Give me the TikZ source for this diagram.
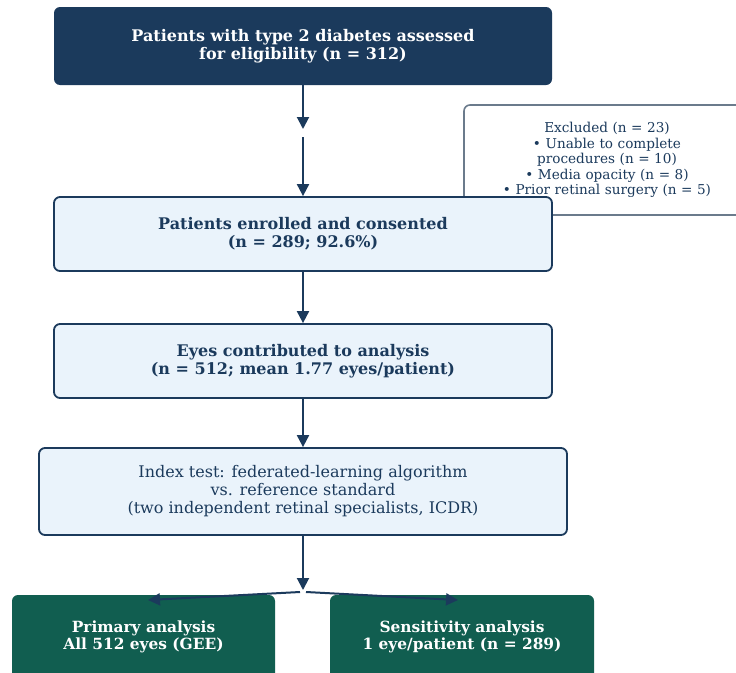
\documentclass[tikz,border=0pt]{standalone}
\usepackage{fontspec}
\setmainfont{DejaVu Serif}
\usetikzlibrary{arrows.meta}
\definecolor{navy}{HTML}{1B3A5C}
\definecolor{lightfill}{HTML}{EAF3FB}
\definecolor{greenbox}{HTML}{115E50}
\definecolor{graybd}{HTML}{6B7B8C}
\begin{document}
\begin{tikzpicture}[x=1pt,y=-1pt,
  darkbox/.style={rectangle, rounded corners=6pt, fill=navy, draw=none, text=white,
    font=\fontsize{16}{18}\selectfont\bfseries, align=center, inner sep=0pt},
  lightbox/.style={rectangle, rounded corners=6pt, fill=lightfill, draw=navy, line width=1.8pt, text=navy,
    font=\fontsize{16}{18}\selectfont\bfseries, align=center, inner sep=0pt},
  plainbox/.style={lightbox, font=\fontsize{16}{18}\selectfont},
  exclbox/.style={rectangle, rounded corners=6pt, fill=white, draw=graybd, line width=1.6pt, text=navy,
    font=\fontsize{13.6}{15.4}\selectfont, align=center, inner sep=0pt},
  greenbx/.style={rectangle, rounded corners=6pt, fill=greenbox, draw=none, text=white,
    font=\fontsize{15.4}{17.5}\selectfont\bfseries, align=center, inner sep=0pt},
  flow/.style={draw=navy, line width=2pt, -{Triangle[width=12pt,length=12pt]}}
]
\clip (0,0) rectangle (736,672);
\fill[white] (0,0) rectangle (736,672);

\node[darkbox, minimum width=498pt, minimum height=78pt] (top) at (303,46)
  {Patients with type 2 diabetes assessed\\for eligibility (n = 312)};

\node[exclbox, minimum width=282pt, minimum height=110pt] (excl) at (605,160) {};
\node[exclbox, draw=none, fill=none, text width=260pt] (excltxt) at (607,160)
  {Excluded (n = 23)\\• Unable to complete\\procedures (n = 10)\\• Media opacity (n = 8)\\• Prior retinal surgery (n = 5)};

\node[lightbox, minimum width=498pt, minimum height=74pt] (enr) at (303,234)
  {Patients enrolled and consented\\(n = 289; 92.6\%)};

\node[lightbox, minimum width=498pt, minimum height=74pt] (eyes) at (303,361)
  {Eyes contributed to analysis\\(n = 512; mean 1.77 eyes/patient)};

\node[plainbox, minimum width=528pt, minimum height=87pt] (idx) at (303,491.5)
  {Index test: federated-learning algorithm\\vs. reference standard\\(two independent retinal specialists, ICDR)};

\node[greenbx, minimum width=263pt, minimum height=84pt] (prim) at (143.5,637)
  {Primary analysis\\All 512 eyes (GEE)};
\node[greenbx, minimum width=264pt, minimum height=84pt] (sens) at (462,637)
  {Sensitivity analysis\\1 eye/patient (n = 289)};

\coordinate (mid1) at (303,129);
\coordinate (mid2) at (303,137);
\coordinate (split) at (303,590);
\coordinate (splitL) at (300,592);
\coordinate (splitR) at (306,592);
\coordinate (primin) at (148,600);
\coordinate (sensin) at (458,600);

\draw[flow] (top.south) -- (mid1);
\draw[flow] (mid2) -- (enr.north);
\draw[flow] (enr.south) -- (eyes.north);
\draw[flow] (eyes.south) -- (idx.north);
\draw[flow] (idx.south) -- (split);
\draw[flow] (splitL) -- (primin);
\draw[flow] (splitR) -- (sensin);
\end{tikzpicture}
\end{document}
